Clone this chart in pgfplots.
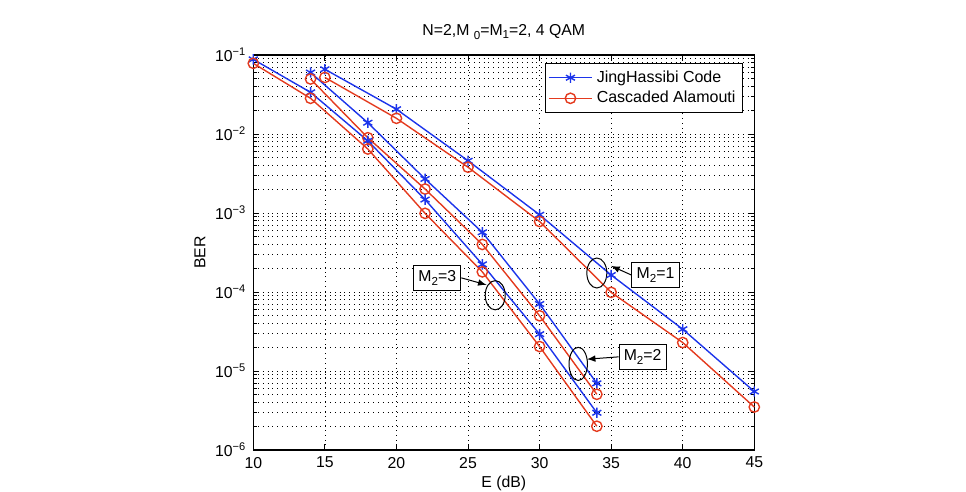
\documentclass[border=0pt]{standalone}
\usepackage{fontspec}
\setmainfont{Liberation Sans}
\usepackage{pgfplots}
\pgfplotsset{compat=1.18}
\definecolor{jhblue}{RGB}{28,52,235}
\definecolor{cared}{RGB}{228,58,30}
\begin{document}
\begin{tikzpicture}[font=\fontsize{7.9}{9}\selectfont]
\begin{axis}[
  scale only axis,
  width=250.5pt, height=197.5pt,
  at={(0,0)}, anchor=south west,
  xmin=10, xmax=45, ymin=1e-6, ymax=1e-1,
  ymode=log, log basis y=10,
  xtick={10,15,...,45},
  ytick={1e-6,1e-5,1e-4,1e-3,1e-2,1e-1},
  minor ytick={2e-6,3e-6,4e-6,5e-6,6e-6,7e-6,8e-6,9e-6,
               2e-5,3e-5,4e-5,5e-5,6e-5,7e-5,8e-5,9e-5,
               2e-4,3e-4,4e-4,5e-4,6e-4,7e-4,8e-4,9e-4,
               2e-3,3e-3,4e-3,5e-3,6e-3,7e-3,8e-3,9e-3,
               2e-2,3e-2,4e-2,5e-2,6e-2,7e-2,8e-2,9e-2},
  yticklabel={10\textsuperscript{−\pgfmathparse{int(round(-\tick))}\pgfmathresult}},
  /pgf/number format/assume math mode=true,
  tick align=inside,
  major tick length=3pt, minor tick length=1.8pt,
  axis line style={line width=0.7pt},
  every tick/.style={black, line width=0.4pt},
  grid=both,
  major grid style={black, dotted, line width=0.35pt},
  minor grid style={black, dotted, line width=0.3pt},
  minor x tick num=0,
  xlabel={E (dB)}, ylabel={BER},
  xlabel style={yshift=3pt},
  ylabel style={yshift=-2pt},
  title={N=2,M \raisebox{-0.55ex}{\fontsize{5.8}{6}\selectfont 0}=M\raisebox{-0.45ex}{\fontsize{5.8}{6}\selectfont 1}=2, 4 QAM},
  title style={yshift=-2pt},
  legend style={at={(rel axis cs:0.9775,0.98)}, anchor=north east,
    draw=black, line width=0.5pt, inner sep=1.5pt, row sep=-1pt,
    font=\fontsize{8}{9}\selectfont, cells={anchor=west}},
  legend image code/.code={%
    \draw[mark repeat=2, mark phase=2, line width=0.7pt]
      plot coordinates {(0cm,0cm) (0.38cm,0cm) (0.76cm,0cm)};},
  legend cell align=left,
  every axis plot/.append style={line width=0.7pt},
  clip=false,
]
% M2 = 1
\addplot[jhblue, mark=asterisk, mark size=2.6pt, mark options={line width=0.7pt}] coordinates {
  (15,0.066) (20,0.0206) (25,0.00459) (30,0.00095) (35,1.64e-4) (40,3.38e-5) (45,5.5e-6)};
\addlegendentry{JingHassibi Code}
\addplot[cared, mark=o, mark size=2.6pt, mark options={line width=0.7pt}] coordinates {
  (15,0.052) (20,0.0158) (25,0.0038) (30,0.00078) (35,9.9e-5) (40,2.29e-5) (45,3.5e-6)};
\addlegendentry{Cascaded Alamouti}
% M2 = 2
\addplot[jhblue, mark=asterisk, mark size=2.6pt, mark options={line width=0.7pt}, forget plot] coordinates {
  (14,0.060) (18,0.0139) (22,0.0027) (26,0.00057) (30,7.05e-5) (34,6.98e-6)};
\addplot[cared, mark=o, mark size=2.6pt, mark options={line width=0.7pt}, forget plot] coordinates {
  (14,0.0497) (18,0.00897) (22,0.00201) (26,0.0004) (30,5.0e-5) (34,5.07e-6)};
% M2 = 3
\addplot[jhblue, mark=asterisk, mark size=2.6pt, mark options={line width=0.7pt}, forget plot] coordinates {
  (10,0.088) (14,0.0337) (18,0.0082) (22,0.00148) (26,2.24e-4) (30,2.93e-5) (34,2.96e-6)};
\addplot[cared, mark=o, mark size=2.6pt, mark options={line width=0.7pt}, forget plot] coordinates {
  (10,0.0785) (14,0.0283) (18,0.00646) (22,0.00099) (26,1.8e-4) (30,2.04e-5) (34,2.0e-6)};
% group annotations
\draw[black, line width=0.5pt] (axis cs:34.0,1.74e-4) ellipse [x radius=5pt, y radius=7.5pt];
\draw[black, line width=0.5pt] (axis cs:26.9,9.1e-5) ellipse [x radius=5pt, y radius=7.3pt];
\draw[black, line width=0.5pt] (axis cs:32.7,1.23e-5) ellipse [x radius=4.6pt, y radius=8.3pt];
\node[draw=black, fill=white, line width=0.5pt, inner sep=2.4pt] (m1) at (axis cs:38.1,1.64e-4) {M\raisebox{-0.45ex}{\fontsize{5.8}{6}\selectfont 2}=1};
\node[draw=black, fill=white, line width=0.5pt, inner sep=2.4pt] (m3) at (axis cs:22.85,1.51e-4) {M\raisebox{-0.45ex}{\fontsize{5.8}{6}\selectfont 2}=3};
\node[draw=black, fill=white, line width=0.5pt, inner sep=2.4pt] (m2) at (axis cs:37.2,1.51e-5) {M\raisebox{-0.45ex}{\fontsize{5.8}{6}\selectfont 2}=2};
\draw[-latex, line width=0.5pt] (m1.west) -- (axis cs:35.0,2.14e-4);
\draw[-latex, line width=0.5pt] (m3.east) -- (axis cs:26.3,1.23e-4);
\draw[-latex, line width=0.5pt] (m2.west) -- (axis cs:33.3,1.41e-5);
\end{axis}
\pgfresetboundingbox
\path[use as bounding box] (-126.65pt,-21pt) rectangle (356.35pt,225pt);
\end{tikzpicture}
\end{document}
